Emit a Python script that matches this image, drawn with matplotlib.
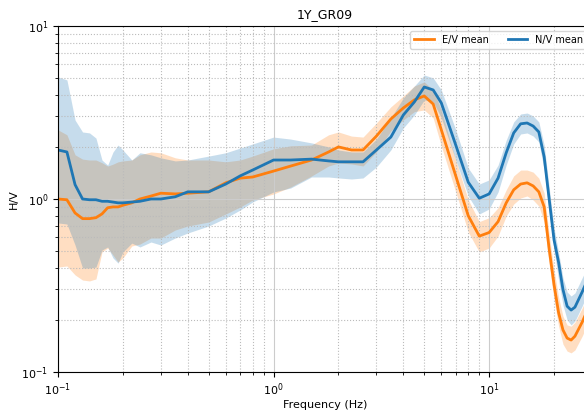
import matplotlib
matplotlib.use('Agg')
import matplotlib.pyplot as plt

# frequencies (Hz) sampled along the curves
freq = [0.10, 0.11, 0.12, 0.13, 0.14, 0.15, 0.16, 0.17, 0.18, 0.19,
        0.20, 0.22, 0.24, 0.27, 0.30, 0.35, 0.40, 0.50, 0.60, 0.70,
        0.80, 1.0, 1.2, 1.5, 1.8, 2.0, 2.3, 2.6, 3.0, 3.5,
        4.0, 4.5, 5.0, 5.5, 6.0, 7.0, 8.0, 9.0, 10, 11,
        12, 13, 14, 15, 16, 17, 18, 19, 20, 21,
        22, 23, 24, 25, 27, 30]

# E/V mean and band
ev_mean = [1.00, 0.99, 0.83, 0.77, 0.77, 0.78, 0.82, 0.89, 0.90, 0.90,
           0.92, 0.95, 1.00, 1.04, 1.08, 1.07, 1.08, 1.10, 1.24, 1.32,
           1.34, 1.45, 1.55, 1.68, 1.87, 2.00, 1.92, 1.92, 2.31, 2.90,
           3.36, 3.74, 3.94, 3.54, 2.51, 1.36, 0.80, 0.61, 0.64, 0.74,
           0.95, 1.13, 1.22, 1.24, 1.19, 1.10, 0.90, 0.51, 0.32, 0.22,
           0.175, 0.157, 0.153, 0.161, 0.194, 0.261]
ev_hi = [2.51, 2.35, 1.80, 1.70, 1.68, 1.68, 1.62, 1.55, 1.59, 1.64,
         1.66, 1.68, 1.80, 1.87, 1.85, 1.73, 1.68, 1.68, 1.64, 1.68,
         1.77, 1.95, 2.03, 2.05, 2.35, 2.44, 2.31, 2.28, 2.75, 3.41,
         3.94, 4.50, 4.75, 4.27, 3.27, 1.68, 0.99, 0.74, 0.78, 0.89,
         1.13, 1.36, 1.47, 1.47, 1.43, 1.32, 1.08, 0.62, 0.39, 0.27,
         0.21, 0.187, 0.184, 0.194, 0.234, 0.314]
ev_lo = [0.404, 0.410, 0.364, 0.340, 0.336, 0.345, 0.494, 0.521, 0.474, 0.432,
         0.456, 0.535, 0.549, 0.595, 0.595, 0.662, 0.698, 0.736, 0.819, 0.899,
         0.987, 1.069, 1.173, 1.358, 1.552, 1.615, 1.594, 1.552, 1.870, 2.473,
         2.864, 3.20, 3.271, 2.941, 2.025, 1.098, 0.644, 0.494, 0.521, 0.611,
         0.797, 0.935, 1.013, 1.041, 0.987, 0.910, 0.736, 0.415, 0.261, 0.184,
         0.145, 0.132, 0.129, 0.134, 0.161, 0.216]

# N/V mean and band
nv_mean = [1.92, 1.87, 1.21, 1.00, 0.99, 0.99, 0.97, 0.97, 0.96, 0.95,
           0.95, 0.96, 0.97, 1.00, 1.00, 1.03, 1.10, 1.10, 1.22, 1.36,
           1.47, 1.68, 1.68, 1.70, 1.66, 1.64, 1.64, 1.64, 1.92, 2.28,
           3.06, 3.64, 4.44, 4.27, 3.59, 2.05, 1.25, 1.01, 1.07, 1.32,
           1.85, 2.41, 2.72, 2.75, 2.64, 2.44, 1.75, 0.99, 0.58, 0.43,
           0.30, 0.24, 0.228, 0.237, 0.29, 0.39]
nv_hi = [5.08, 4.88, 2.86, 2.44, 2.41, 2.25, 1.68, 1.57, 1.87, 2.05,
         1.92, 1.68, 1.85, 1.80, 1.73, 1.66, 1.68, 1.77, 1.85, 1.97,
         2.08, 2.28, 2.22, 2.11, 2.00, 1.92, 1.87, 1.87, 2.22, 2.94,
         3.84, 4.50, 5.21, 5.01, 4.27, 2.51, 1.51, 1.22, 1.29, 1.57,
         2.19, 2.79, 3.10, 3.14, 3.02, 2.79, 2.05, 1.16, 0.68, 0.49,
         0.35, 0.29, 0.275, 0.286, 0.35, 0.46]
nv_lo = [0.727, 0.717, 0.542, 0.399, 0.399, 0.404, 0.507, 0.528, 0.456, 0.426,
         0.494, 0.556, 0.528, 0.564, 0.542, 0.595, 0.636, 0.698, 0.776, 0.864,
         0.961, 1.098, 1.157, 1.340, 1.340, 1.323, 1.305, 1.323, 1.531, 1.921,
         2.574, 3.061, 3.737, 3.639, 2.941, 1.681, 1.041, 0.819, 0.876, 1.098,
         1.573, 2.080, 2.376, 2.408, 2.313, 2.136, 1.471, 0.830, 0.507, 0.340,
         0.244, 0.200, 0.187, 0.197, 0.2405, 0.327]

fig = plt.figure(figsize=(5.84, 4.12), dpi=100)
# the original picture is cropped on the right, so the axes run past the edge
ax = fig.add_axes([0.0993, 0.0971, 0.9144, 0.8398])

ax.fill_between(freq, ev_lo, ev_hi, color='tab:orange', alpha=0.25, lw=0)
ax.fill_between(freq, nv_lo, nv_hi, color='tab:blue', alpha=0.25, lw=0)
ax.plot(freq, ev_mean, color='tab:orange', lw=2, label='E/V mean')
ax.plot(freq, nv_mean, color='tab:blue', lw=2, label='N/V mean')

ax.set_xscale('log')
ax.set_yscale('log')
ax.set_xlim(0.1, 30)
ax.set_ylim(0.1, 10)

ax.grid(True, which='major', ls='-', color='#cccccc', lw=0.8)
ax.grid(True, which='minor', ls=':', color='#bbbbbb', lw=0.8)
ax.tick_params(labelsize=8)

ax.set_title('1Y_GR09', fontsize=9)
ax.set_xlabel('Frequency (Hz)', fontsize=8, labelpad=1)
ax.set_ylabel('H/V', fontsize=8, labelpad=2)
ax.legend(loc='upper right', ncol=2, fontsize=7, framealpha=0.8)

fig.savefig('out.png', dpi=100)
